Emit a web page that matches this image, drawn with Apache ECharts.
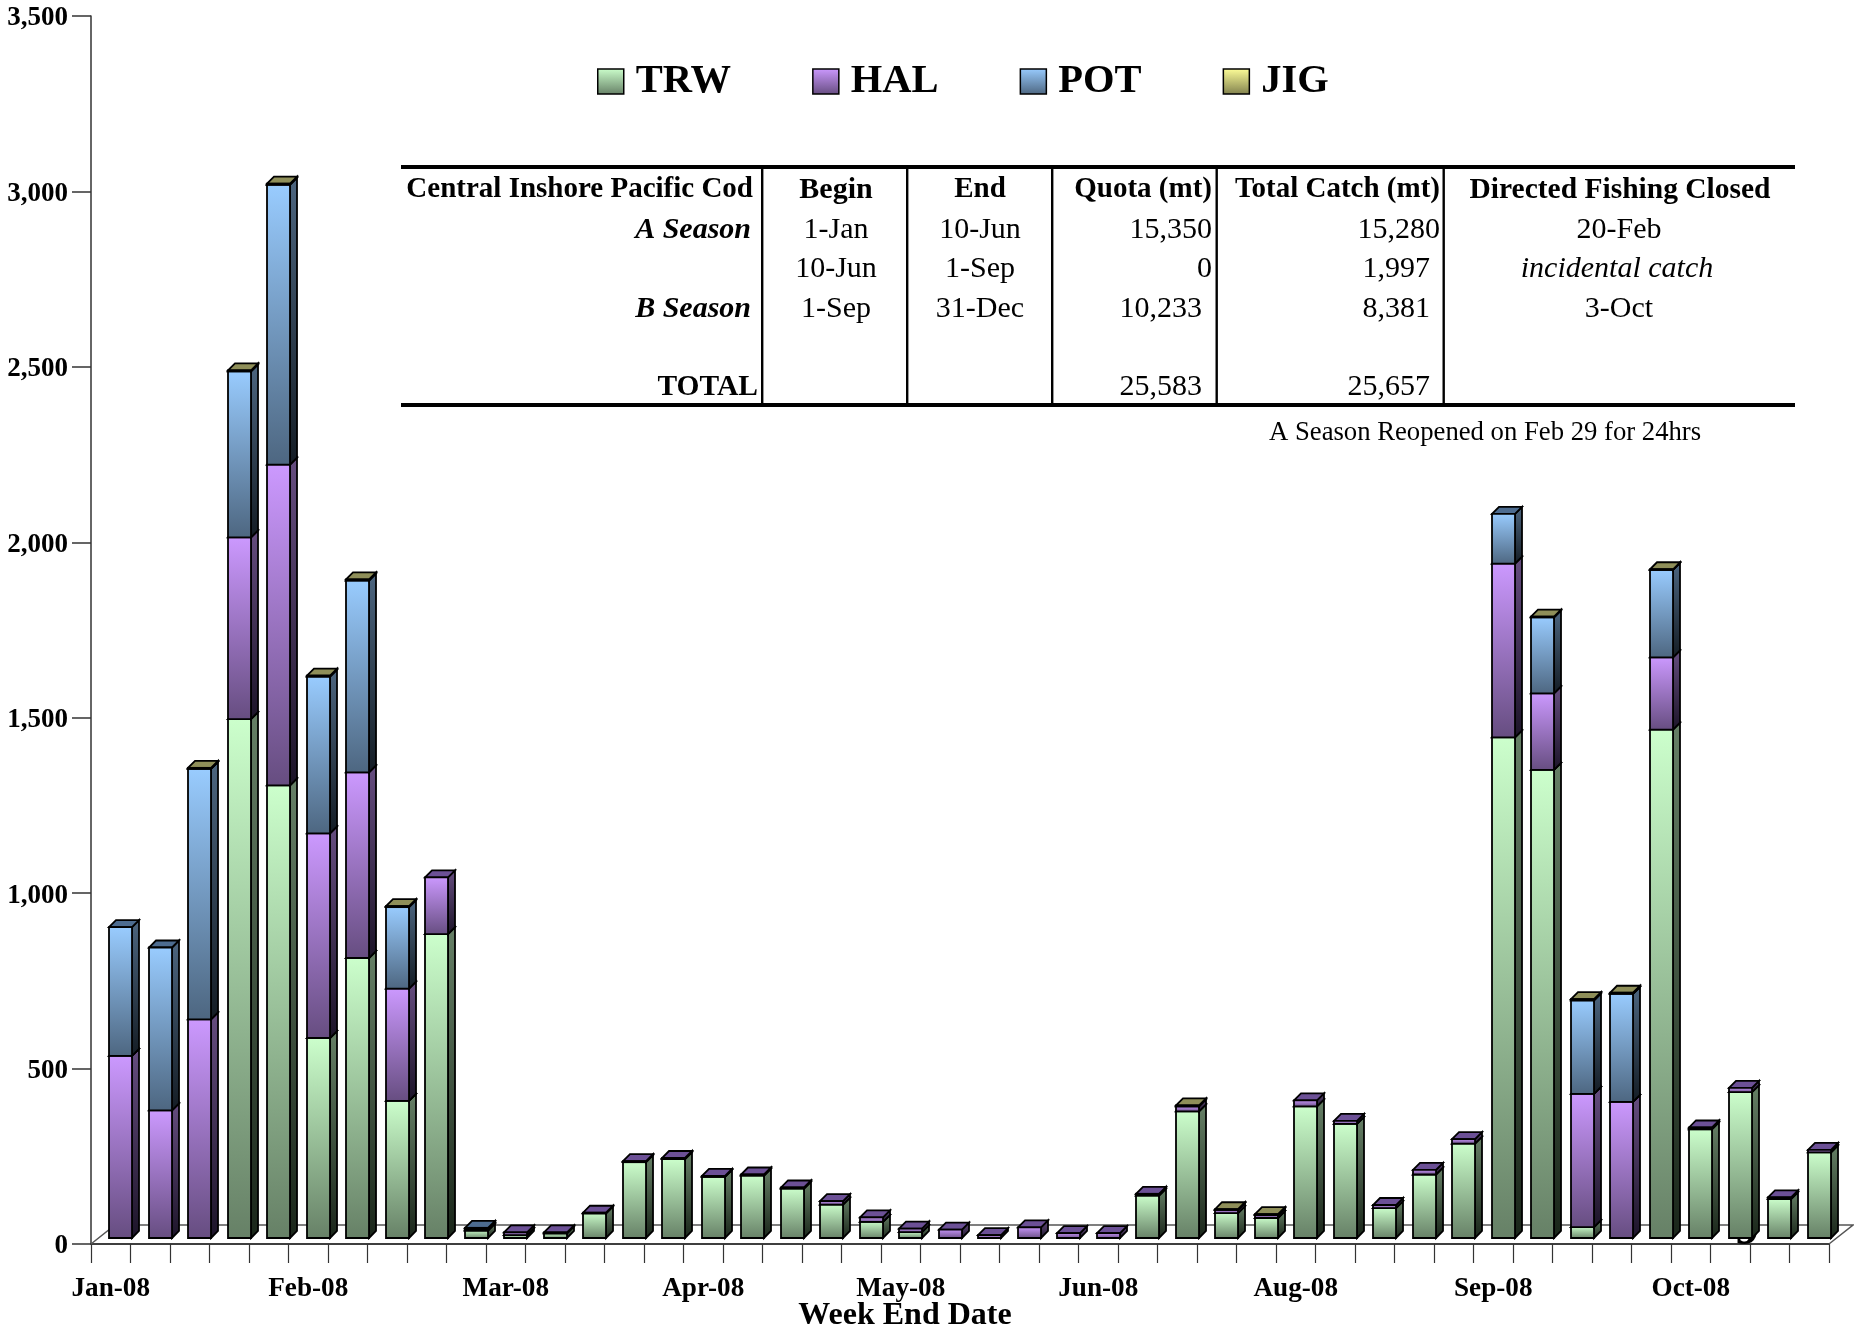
<!DOCTYPE html>
<html><head><meta charset="utf-8">
<style>html,body{margin:0;padding:0;background:#fff}#c{width:1854px;height:1325px}</style>
<script src="https://cdn.jsdelivr.net/npm/echarts@6/dist/echarts.min.js"></script>
</head><body><div id="c"></div>
<script>
const weekLabels = ["Jan-08","Jan-08","Jan-08","Jan-08","Feb-08","Feb-08","Feb-08","Feb-08","Feb-08","Mar-08","Mar-08","Mar-08","Mar-08","Mar-08","Apr-08","Apr-08","Apr-08","Apr-08","Apr-08","May-08","May-08","May-08","May-08","May-08","Jun-08","Jun-08","Jun-08","Jun-08","Jun-08","Jul-08","Aug-08","Aug-08","Aug-08","Aug-08","Aug-08","Sep-08","Sep-08","Sep-08","Sep-08","Sep-08","Oct-08","Oct-08","Oct-08","Oct-08"];
const TRW = [0,0,0,1479,1290,570,798,391,866,21,8,13,70,216,225,174,178,141,95,46,17,0,0,0,0,0,121,361,71,57,375,325,85,181,269,1427,1334,31,0,1449,310,416,111,244];
const HAL = [519,364,623,518,914,583,529,320,162,3,8,3,2,3,3,3,3,3,10,13,10,24,8,30,14,14,5,14,9,8,17,9,9,13,13,495,218,380,388,206,5,12,5,7];
const POT = [367,464,714,473,798,447,547,232,0,5,0,0,0,0,0,0,0,0,0,0,0,0,0,0,0,0,0,0,0,0,0,0,0,0,0,142,217,266,308,249,0,0,0,0];
const JIG = [0,0,3,3,3,3,3,3,0,0,0,0,0,0,0,0,0,0,0,0,0,0,0,0,0,0,0,3,2,3,0,0,0,0,0,0,2,4,3,2,0,0,0,0];
const seriesNames = ["TRW","HAL","POT","JIG"];

const tableHeader = ["Central Inshore Pacific Cod","Begin","End","Quota (mt)","Total Catch (mt)","Directed Fishing Closed"];
const rowNames = ["A Season","","B Season","","TOTAL"];
const beginDates = ["1-Jan","10-Jun","1-Sep","",""];
const endDates = ["10-Jun","1-Sep","31-Dec","",""];
const quotas = ["15,350","0","10,233","","25,583"];
const catches = ["15,280","1,997","8,381","","25,657"];
const closedDates = ["20-Feb","incidental catch","3-Oct","",""];
const tableNote = "A Season Reopened on Feb 29 for 24hrs";
const xTitle = "Week End Date";

const FONT = "Liberation Serif";
const palette = {
  TRW:{light:"#ccffcc",dark:"#668066",sideTop:"#668066",sideBot:"#1a261a",cap:"#668066"},
  HAL:{light:"#cc99ff",dark:"#664d80",sideTop:"#664d80",sideBot:"#1c1428",cap:"#6c5096"},
  POT:{light:"#99ccff",dark:"#4d6680",sideTop:"#4d6680",sideBot:"#141c24",cap:"#4d6c90"},
  JIG:{light:"#ffff99",dark:"#80804d",sideTop:"#80804d",sideBot:"#24241a",cap:"#8f8f59"}
};
const grad = (a,b)=>new echarts.graphic.LinearGradient(0,0,0,1,[{offset:0,color:a},{offset:1,color:b}]);

const chart = echarts.init(document.getElementById('c'),null,{renderer:'canvas'});
const BAR_W=23, DEPTH=7, SHIFT_X=10, SHIFT_Y=6;

function makeBarSeries(name,values,lower){
  const p=palette[name];
  const data=values.map((v,i)=>[i,lower[i],lower[i]+v,v]);
  return {
    name,type:'custom',coordinateSystem:'cartesian2d',z:3,
    itemStyle:{color:grad(p.light,p.dark)},
    encode:{x:0,y:[1,2]},
    data,
    renderItem(params,api){
      const v=api.value(3);
      if(!v) return {type:'group',children:[]};
      const i=api.value(0);
      const c0=api.coord([i,api.value(1)]), c1=api.coord([i,api.value(2)]);
      const x=Math.round(c0[0]+SHIFT_X-BAR_W/2), yb=c0[1]-SHIFT_Y, yt=c1[1]-SHIFT_Y, r=x+BAR_W;
      const stroke={stroke:'#000',lineWidth:1.8,lineJoin:'miter'};
      return {type:'group',children:[
        {type:'polygon',shape:{points:[[r,yb],[r+DEPTH,yb-DEPTH],[r+DEPTH,yt-DEPTH],[r,yt]]},style:Object.assign({fill:grad(p.sideTop,p.sideBot)},stroke)},
        {type:'polygon',shape:{points:[[x,yt],[r,yt],[r+DEPTH,yt-DEPTH],[x+DEPTH,yt-DEPTH]]},style:Object.assign({fill:p.cap},stroke)},
        {type:'rect',shape:{x,y:yt,width:BAR_W,height:yb-yt},style:Object.assign({fill:grad(p.light,p.dark)},stroke)}
      ]};
    }
  };
}
const cum=[0,0,0,0].map(()=>weekLabels.map(()=>0));
const allVals=[TRW,HAL,POT,JIG];
for(let s=1;s<4;s++) for(let i=0;i<weekLabels.length;i++) cum[s][i]=cum[s-1][i]+allVals[s-1][i];
const barSeries=seriesNames.map((n,s)=>makeBarSeries(n,allVals[s],cum[s]));

const floorSeries={
  type:'custom',name:'floor',coordinateSystem:'cartesian2d',z:1,silent:true,
  data:[[0,0]],encode:{x:0,y:1},
  renderItem(params){
    const g=params.coordSys, dx=24, dy=19, y0=g.y+g.height, xl=g.x, xr=g.x+g.width;
    const st={stroke:'#555',lineWidth:1.5,fill:null};
    return {type:'group',children:[
      {type:'polyline',shape:{points:[[xl,y0],[xl+dx,y0-dy],[xr+dx,y0-dy],[xr,y0]]},style:st}
    ]};
  }
};

const els=[];
const txt=(text,x,y,align,opt={})=>els.push({type:'text',x,y,style:Object.assign({text,fill:'#000',font:`${opt.italic?'italic ':''}${opt.bold?'bold ':''}${opt.size||30}px "${FONT}"`,textAlign:align,textVerticalAlign:'middle'})});
const rowY=[230,269,309,348,387], headY=190;
const colsX=[753,836,980,1212,1440,1620], colsAlign=['right','center','center','right','right','center'], headSizes=[29,30,29,29,29,29.5];
tableHeader.forEach((h,i)=>txt(h,colsX[i],headY,colsAlign[i],{bold:true,size:headSizes[i]}));
rowNames.forEach((t,r)=>{ if(t) txt(t, t==="TOTAL"?758:751, rowY[r],'right',{bold:true,italic:t!=="TOTAL",size:t==="TOTAL"?29.5:30}); });
beginDates.forEach((t,r)=>{ if(t) txt(t,836,rowY[r],'center'); });
endDates.forEach((t,r)=>{ if(t) txt(t,980,rowY[r],'center'); });
quotas.forEach((t,r)=>{ if(t) txt(t,r===0||r===1?1212:1202,rowY[r],'right'); });
catches.forEach((t,r)=>{ if(t) txt(t,r===0?1440:1430,rowY[r],'right'); });
closedDates.forEach((t,r)=>{ if(t) txt(t,r===1?1617:1619,rowY[r],'center',{italic:r===1}); });
txt(tableNote,1269,433,'left',{size:26.7});
txt(xTitle,905,1316,'center',{bold:true,size:32});
const hline=(y)=>els.push({type:'rect',shape:{x:401,y:y-2,width:1394,height:4},style:{fill:'#000'}});
hline(167);hline(405);
[762,907,1052,1216.5,1443.5].forEach(x=>els.push({type:'rect',shape:{x:x-1,y:167,width:2.4,height:238},style:{fill:'#000'}}));
els.push({type:'text',x:1747,y:1232,style:{text:'9',fill:'#000',font:`bold 48px "${FONT}"`,textAlign:'center',textVerticalAlign:'middle'}});

chart.setOption({
  animation:false,
  backgroundColor:'#fff',
  grid:{left:91,right:25,top:16,bottom:81,containLabel:false},
  legend:{left:592,top:56,itemWidth:26,itemHeight:25,itemGap:81,selectedMode:false,
    textStyle:{fontFamily:FONT,fontWeight:'bold',fontSize:40.5,color:'#000',padding:[0,0,0,7]},
    data:seriesNames.map(n=>({name:n,icon:'rect',itemStyle:{color:grad(palette[n].light,palette[n].dark),borderColor:'#000',borderWidth:1.5}}))},
  xAxis:{type:'category',data:weekLabels,boundaryGap:true,
    axisLine:{lineStyle:{color:'#000',width:1.5}},
    axisTick:{show:true,interval:0,length:19,lineStyle:{color:'#333',width:1.2}},
    axisLabel:{interval:4,margin:31,fontFamily:FONT,fontWeight:'bold',fontSize:27.2,color:'#000',hideOverlap:false}},
  yAxis:{type:'value',min:0,max:3500,interval:500,
    splitLine:{show:false},
    axisLine:{show:true,lineStyle:{color:'#333',width:1.5}},
    axisTick:{show:true,length:19,lineStyle:{color:'#333',width:1.5}},
    axisLabel:{margin:23,color:'#000',
      formatter:v=>'{t|'+v.toLocaleString('en-US')+'}',
      rich:{t:{fontFamily:FONT,fontWeight:'bold',fontSize:27,color:'#000',padding:[5,0,0,0]}}}},
  graphic:{elements:els},
  series:[floorSeries].concat(barSeries)
});
</script></body></html>
